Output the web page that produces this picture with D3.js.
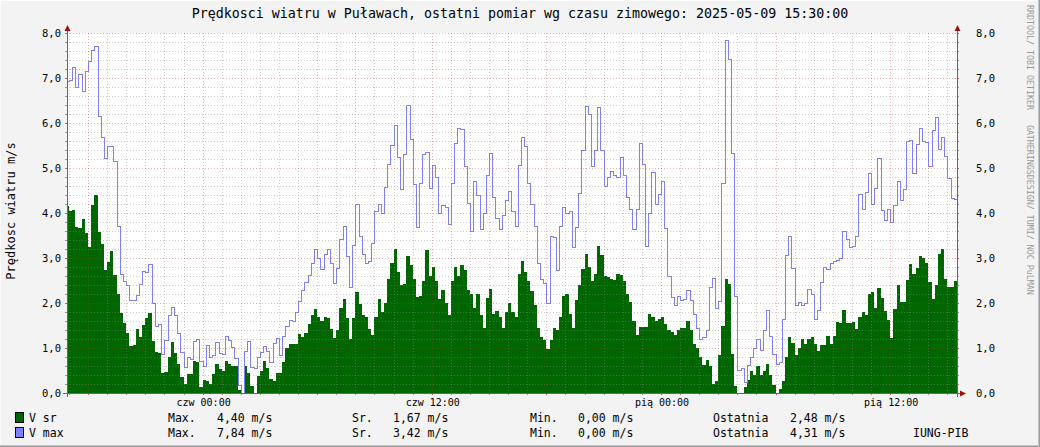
<!DOCTYPE html>
<html><head><meta charset="utf-8">
<script src="https://cdn.jsdelivr.net/npm/d3@7"></script>
<style>
body{margin:0;background:#f3f3f3;}
svg{display:block;}
text{font-family:"DejaVu Sans Mono",monospace;fill:#000;}
</style>
</head><body>
<svg id="c" width="1040" height="447"></svg>
<script>
const titleText = "Prędkosci wiatru w Puławach, ostatni pomiar wg czasu zimowego: 2025-05-09 15:30:00";
const yAxisTitle = "Prędkosc wiatru m/s";
const watermark = "RRDTOOL/ TOBI OETIKER   GATHERINGSDESIGN/ TUMI/ NOC PuLMAN";
const seriesNames = ["V sr", "V max"];
const seriesColors = ["#006600", "#8080ff"];
const firstSampleTime = "2025-05-07T16:50:00";
const stepMinutes = 10;
const viewStart = "2025-05-07T16:54:00";
const viewEnd = "2025-05-09T15:30:00";

const vSr = [
4.15,4.04,4.07,3.69,3.67,3.87,3.56,3.24,4.18,4.40,
3.58,3.31,2.74,2.91,3.16,2.62,2.19,1.77,1.55,1.34,
1.05,1.07,1.42,1.25,1.51,1.67,1.78,1.16,0.92,0.89,
0.44,0.46,0.80,1.13,0.89,0.64,0.36,0.21,0.42,0.42,
0.72,0.70,0.13,0.30,0.26,0.20,0.42,0.64,0.53,0.50,
0.72,0.64,0.61,0.60,0.07,0.00,0.61,0.44,0.16,0.00,
0.37,0.50,0.72,0.56,0.32,0.27,0.44,0.44,0.70,1.00,
1.09,1.09,1.09,1.31,1.24,1.33,1.53,1.74,1.87,1.68,
1.61,1.68,1.67,1.42,1.22,1.41,1.90,2.09,1.67,1.20,
1.67,2.24,1.98,1.74,1.70,1.42,1.30,1.68,2.09,1.80,
2.00,2.54,2.89,3.20,2.69,2.41,2.42,3.04,2.84,2.53,
2.13,2.16,2.48,3.17,2.59,2.79,2.48,2.09,2.28,2.01,
1.74,2.50,2.80,2.61,2.84,2.73,2.28,2.19,1.90,2.19,
1.74,1.44,2.11,2.31,1.76,1.83,1.70,1.44,1.80,1.99,
1.81,1.70,2.64,2.94,2.69,2.50,2.26,1.95,1.44,1.24,
1.17,0.98,1.17,1.44,1.39,1.68,2.16,2.19,1.76,1.44,
2.07,2.39,2.76,3.09,2.79,2.50,2.64,3.26,3.07,2.59,
2.57,2.54,2.51,2.64,2.62,2.48,2.21,2.02,1.61,1.30,
1.47,1.47,1.47,1.76,1.68,1.59,1.64,1.68,1.53,1.39,
1.35,1.30,1.41,1.44,1.44,1.61,1.41,1.10,1.00,0.80,
0.63,0.74,0.61,0.21,0.26,0.85,1.50,2.54,2.42,0.87,
0.16,0.00,0.00,0.13,0.30,0.50,0.41,0.61,0.41,0.48,
0.64,0.41,0.17,0.00,0.09,0.27,0.81,1.24,1.11,0.85,
1.01,1.20,1.09,1.19,1.24,1.09,0.93,1.07,1.07,1.26,
1.09,1.26,1.58,1.56,1.85,1.56,1.56,1.58,1.42,1.70,
1.80,1.74,2.19,2.24,1.89,2.33,2.11,1.83,1.62,1.22,
1.87,2.39,2.02,2.02,2.51,2.87,2.64,2.78,3.04,3.00,
2.89,2.47,2.10,2.40,3.10,3.20,2.53,2.35,2.36,2.48
];

const vMax = [
6.93,6.95,7.24,6.79,7.10,6.70,7.16,7.37,7.63,7.70,
6.15,5.70,5.22,5.50,5.50,5.16,3.72,2.65,2.48,2.41,
2.07,2.07,2.17,2.43,2.72,2.70,2.86,2.01,1.50,1.54,
0.87,1.17,1.74,1.90,1.73,1.33,0.91,0.57,0.79,0.76,
1.15,1.21,0.72,0.59,1.06,0.81,0.84,1.13,0.89,0.87,
1.26,1.17,1.02,0.78,0.17,0.00,0.94,1.15,0.58,0.56,
0.81,0.91,1.04,0.94,0.69,1.11,1.22,0.84,1.26,1.50,
1.63,1.61,1.81,2.04,2.30,2.46,2.63,2.90,3.20,3.01,
2.76,3.10,3.21,2.90,2.44,2.78,3.42,3.72,3.04,2.36,
3.28,4.19,3.50,3.10,2.89,2.93,3.33,4.04,4.21,3.99,
4.57,5.09,5.52,5.95,5.24,4.53,5.31,6.39,5.64,4.64,
3.68,4.67,5.32,5.35,4.56,5.06,4.81,4.01,4.17,4.14,
3.75,4.66,5.55,5.89,5.87,5.04,4.22,3.61,4.70,4.41,
3.64,4.01,4.85,5.33,4.35,3.88,3.64,3.95,4.30,4.48,
4.05,3.70,5.06,5.70,5.50,4.66,4.21,3.70,2.88,2.53,
2.44,1.99,3.50,3.46,2.73,3.70,4.13,3.99,4.05,3.24,
3.68,4.44,5.41,6.37,6.21,5.04,5.41,6.35,5.39,4.59,
4.81,4.94,4.85,4.80,5.24,4.84,4.35,4.10,3.64,4.08,
5.55,5.10,3.26,4.01,4.92,4.21,4.42,4.72,3.66,2.59,
2.13,1.95,2.15,2.07,2.10,2.30,2.07,1.75,1.44,1.20,
1.24,1.39,2.35,2.55,1.88,2.04,4.66,7.84,7.42,5.33,
2.15,0.52,0.56,0.24,0.63,0.79,0.99,1.19,0.95,1.39,
1.85,1.26,0.87,0.64,0.69,1.65,3.06,3.50,2.78,1.96,
2.02,1.96,1.99,2.32,2.19,1.65,1.85,2.46,2.79,2.76,
2.90,2.93,2.96,2.99,3.61,3.42,3.24,3.26,3.50,4.42,
4.10,4.46,4.88,4.21,4.55,5.22,4.06,3.84,4.09,3.81,
4.17,4.70,4.28,4.53,5.59,5.63,4.90,5.54,5.88,5.61,
5.57,5.04,5.84,6.13,5.42,5.68,5.26,4.77,4.33,4.31
];

const xTickTimes = ["2025-05-08T00:00:00","2025-05-08T12:00:00","2025-05-09T00:00:00","2025-05-09T12:00:00"];
const xTickLabels = ["czw 00:00","czw 12:00","pią 00:00","pią 12:00"];
const yTicks = [0,1,2,3,4,5,6,7,8];
const statLabels = ["Max.","Sr.","Min.","Ostatnia"];
const statsSr = ["4,40","1,67","0,00","2,48"];
const statsMax = ["7,84","3,42","0,00","4,31"];
const unit = "m/s";
const footer = "IUNG-PIB";

const W = 1040, H = 447;
const m = {left: 67, right: 957, top: 33, bottom: 393};
const svg = d3.select("#c");

// background + shade border
svg.append("rect").attr("width", W).attr("height", H).attr("fill", "#f3f3f3");
svg.append("line").attr("x1",0).attr("y1",0.5).attr("x2",W).attr("y2",0.5).attr("stroke","#fcfcfc");
svg.append("line").attr("x1",0.5).attr("y1",0).attr("x2",0.5).attr("y2",H).attr("stroke","#fcfcfc");
svg.append("line").attr("x1",0).attr("y1",H-0.5).attr("x2",W).attr("y2",H-0.5).attr("stroke","#9a9a9a");
svg.append("line").attr("x1",0).attr("y1",H-1.5).attr("x2",W).attr("y2",H-1.5).attr("stroke","#c4c4c4");
svg.append("line").attr("x1",W-0.5).attr("y1",0).attr("x2",W-0.5).attr("y2",H).attr("stroke","#9a9a9a");
svg.append("line").attr("x1",W-1.5).attr("y1",0).attr("x2",W-1.5).attr("y2",H).attr("stroke","#c4c4c4");

const parse = s => new Date(s);
const t0 = parse(firstSampleTime);
const x = d3.scaleTime().domain([parse(viewStart), parse(viewEnd)]).range([m.left, m.right]);
const y = d3.scaleLinear().domain([0, 8]).range([m.bottom, m.top]);

function series(vals){
  const pts = vals.map((v,i)=>({t:new Date(t0.getTime()+i*stepMinutes*60000), v}));
  pts.push({t:new Date(t0.getTime()+vals.length*stepMinutes*60000), v: vals[vals.length-1]});
  return pts;
}
const dSr = series(vSr), dMax = series(vMax);

// canvas
svg.append("rect").attr("x", m.left).attr("y", m.top).attr("width", m.right-m.left).attr("height", m.bottom-m.top).attr("fill","#fff");

svg.append("clipPath").attr("id","clip").append("rect")
  .attr("x", m.left).attr("y", m.top-2).attr("width", m.right-m.left).attr("height", m.bottom-m.top+2);

const g = svg.append("g").attr("clip-path","url(#clip)");
g.append("path").datum(dSr)
  .attr("d", d3.area().x(d=>x(d.t)).y0(y(0)).y1(d=>y(d.v)).curve(d3.curveStepAfter))
  .attr("fill", seriesColors[0]).attr("shape-rendering","crispEdges");
g.append("path").datum(dMax)
  .attr("d", d3.line().x(d=>Math.round(x(d.t))+0.5).y(d=>Math.round(y(d.v))+0.5).curve(d3.curveStepAfter))
  .attr("fill","none").attr("stroke", seriesColors[1]).attr("stroke-width",1).attr("shape-rendering","crispEdges");

// grid (on top of data, translucent)
const grid = svg.append("g").attr("shape-rendering","crispEdges");
const minorY = d3.range(1, 40).map(i=>i*0.2).filter(v=>Math.abs(v-Math.round(v))>1e-6);
grid.selectAll(".hmin").data(minorY).join("line")
  .attr("x1", m.left).attr("x2", m.right)
  .attr("y1", d=>Math.round(y(d))+0.5).attr("y2", d=>Math.round(y(d))+0.5)
  .attr("stroke","#8c8c8c").attr("stroke-opacity",0.4).attr("stroke-dasharray","1,2");
const hours = d3.timeHour.range(x.domain()[0], x.domain()[1]);
grid.selectAll(".vmin").data(hours.filter(h=>h.getHours()%6!==0)).join("line")
  .attr("y1", m.top).attr("y2", m.bottom)
  .attr("x1", d=>Math.round(x(d))+0.5).attr("x2", d=>Math.round(x(d))+0.5)
  .attr("stroke","#8c8c8c").attr("stroke-opacity",0.4).attr("stroke-dasharray","1,2");
grid.selectAll(".hmaj").data(yTicks.filter(v=>v>0)).join("line")
  .attr("x1", m.left).attr("x2", m.right)
  .attr("y1", d=>Math.round(y(d))+0.5).attr("y2", d=>Math.round(y(d))+0.5)
  .attr("stroke","#c03030").attr("stroke-opacity",0.35).attr("stroke-dasharray","1,2");
grid.selectAll(".vmaj").data(hours.filter(h=>h.getHours()%6===0)).join("line")
  .attr("y1", m.top).attr("y2", m.bottom)
  .attr("x1", d=>Math.round(x(d))+0.5).attr("x2", d=>Math.round(x(d))+0.5)
  .attr("stroke","#c03030").attr("stroke-opacity",0.35).attr("stroke-dasharray","1,2");

// tick marks
const allY = d3.range(0, 41).map(i=>i*0.2);
svg.append("g").selectAll("line").data(allY).join("line")
  .attr("x1", m.left-2).attr("x2", m.left)
  .attr("y1", d=>Math.round(y(d))+0.5).attr("y2", d=>Math.round(y(d))+0.5)
  .attr("stroke", d=>Math.abs(d-Math.round(d))<1e-6 ? "#c06060" : "#999").attr("shape-rendering","crispEdges");
svg.append("g").selectAll("line").data(allY).join("line")
  .attr("x1", m.right).attr("x2", m.right+2)
  .attr("y1", d=>Math.round(y(d))+0.5).attr("y2", d=>Math.round(y(d))+0.5)
  .attr("stroke", d=>Math.abs(d-Math.round(d))<1e-6 ? "#c06060" : "#999").attr("shape-rendering","crispEdges");
svg.append("g").selectAll("line").data(hours).join("line")
  .attr("y1", m.bottom).attr("y2", m.bottom+2)
  .attr("x1", d=>Math.round(x(d))+0.5).attr("x2", d=>Math.round(x(d))+0.5)
  .attr("stroke", d=>d.getHours()%6===0 ? "#c06060" : "#999").attr("shape-rendering","crispEdges");

// axes
const ax = svg.append("g").attr("shape-rendering","crispEdges").attr("stroke","#666");
ax.append("line").attr("x1", m.left-4).attr("x2", m.right+4).attr("y1", m.bottom+0.5).attr("y2", m.bottom+0.5);
ax.append("line").attr("x1", m.left+0.5).attr("x2", m.left+0.5).attr("y1", m.bottom+4).attr("y2", m.top-3);
ax.append("line").attr("x1", m.right+0.5).attr("x2", m.right+0.5).attr("y1", m.bottom+4).attr("y2", m.top-3);
const arrowCol = "#a01010";
svg.append("path").attr("d", `M${m.left-2.5},${m.top-2} L${m.left+3.5},${m.top-2} L${m.left+0.5},${m.top-8} Z`).attr("fill", arrowCol);
svg.append("path").attr("d", `M${m.right-2.5},${m.top-2} L${m.right+3.5},${m.top-2} L${m.right+0.5},${m.top-8} Z`).attr("fill", arrowCol);
svg.append("path").attr("d", `M${m.right+3},${m.bottom-2.5} L${m.right+3},${m.bottom+3.5} L${m.right+9},${m.bottom+0.5} Z`).attr("fill", arrowCol);

// y labels
const fmt = v => d3.format(".1f")(v).replace(".", ",");
svg.append("g").selectAll("text").data(yTicks).join("text")
  .attr("x", 61).attr("y", d=>y(d)+3.5).attr("text-anchor","end")
  .style("font-size","10.5px").text(fmt);
svg.append("g").selectAll("text").data(yTicks).join("text")
  .attr("x", 976).attr("y", d=>y(d)+3.5).attr("text-anchor","start")
  .style("font-size","10.5px").text(fmt);

// x labels
svg.append("g").selectAll("text").data(xTickTimes).join("text")
  .attr("x", d=>x(parse(d))+1).attr("y", 406).attr("text-anchor","middle")
  .style("font-size","10px").text((d,i)=>xTickLabels[i]);

// title
svg.append("text").attr("x", 520).attr("y", 18).attr("text-anchor","middle")
  .style("font-size","13.3px").text(titleText);

// y axis title
svg.append("text").attr("transform","translate(15,211) rotate(-90)").attr("text-anchor","middle")
  .style("font-size","12px").text(yAxisTitle);

// watermark
svg.append("text").attr("transform","translate(1027,5) rotate(90)").attr("text-anchor","start")
  .style("font-size","8.3px").style("fill","#999").attr("xml:space","preserve").text(watermark);

// legend
const rows = [{name: seriesNames[0], col: seriesColors[0], stats: statsSr, y: 418},
              {name: seriesNames[1], col: seriesColors[1], stats: statsMax, y: 433}];
const labelX = [168, 352, 530, 713];
const valX = [217, 393, 578, 790];
rows.forEach(r=>{
  svg.append("rect").attr("x", 15.5).attr("y", r.y-5.5).attr("width", 8).attr("height", 10)
    .attr("fill", r.col).attr("stroke","#000").attr("stroke-width",1).attr("shape-rendering","crispEdges");
  svg.append("text").attr("x", 29).attr("y", r.y+4).style("font-size","11.5px").text(r.name);
  statLabels.forEach((lab,i)=>{
    svg.append("text").attr("x", labelX[i]).attr("y", r.y+4).style("font-size","11.5px").text(lab);
    svg.append("text").attr("x", valX[i]).attr("y", r.y+4).style("font-size","11.5px").text(r.stats[i] + " " + unit);
  });
});
svg.append("text").attr("x", 913).attr("y", 437).style("font-size","11.5px").text(footer);
</script>
</body></html>
